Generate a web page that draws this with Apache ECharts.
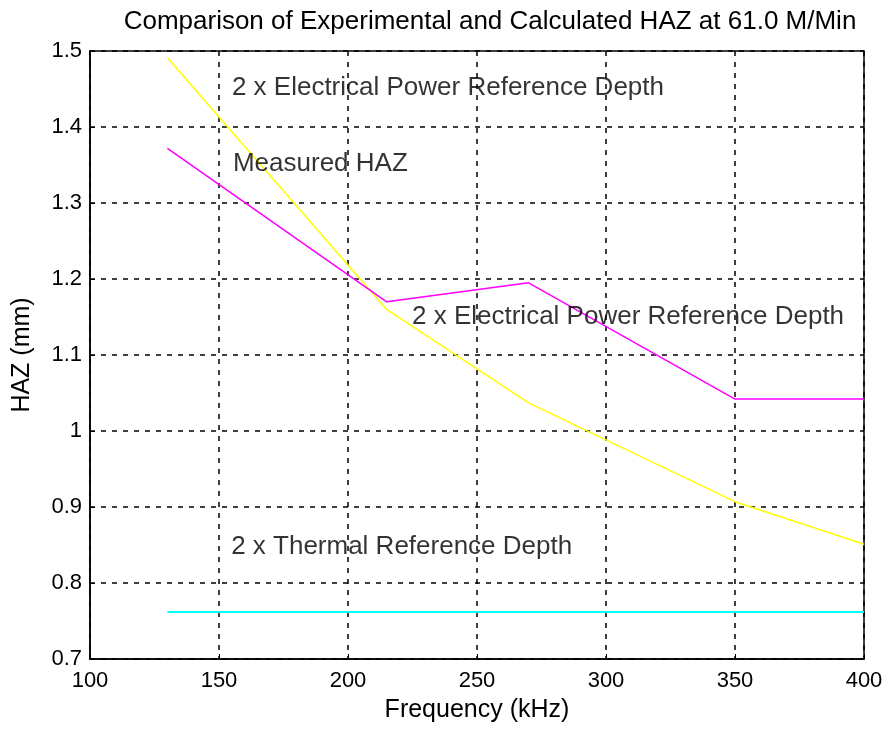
<!DOCTYPE html>
<html>
<head>
<meta charset="utf-8">
<script src="https://cdn.jsdelivr.net/npm/echarts@6/dist/echarts.min.js"></script>
<style>
html,body{margin:0;padding:0;background:#fff;}
#chart{width:887px;height:736px;}
</style>
</head>
<body>
<div id="chart"></div>
<script>
var xTicks = [100, 150, 200, 250, 300, 350, 400];
var yTicks = [0.7, 0.8, 0.9, 1.0, 1.1, 1.2, 1.3, 1.4, 1.5];

var freqElec = [130, 215, 270, 350, 400];
var elecDepth = [1.491, 1.160, 1.037, 0.907, 0.851];

var freqMeas = [130, 215, 270, 350, 400];
var measuredHAZ = [1.372, 1.170, 1.195, 1.042, 1.042];

var freqTherm = [130, 400];
var thermDepth = [0.762, 0.762];

var annText = ['2 x Electrical Power Reference Depth', 'Measured HAZ', '2 x Electrical Power Reference Depth', '2 x Thermal Reference Depth'];
var annX = [155.0, 155.4, 224.8, 154.7];
var annY = [1.451, 1.351, 1.150, 0.847];

function pairs(xs, ys){ return xs.map(function(x,i){ return [x, ys[i]]; }); }

var FONT = '"Liberation Sans", Arial, sans-serif';
var chart = echarts.init(document.getElementById('chart'), null, {renderer:'canvas'});

var annData = annText.map(function(t,i){ return {value:[annX[i], annY[i]], name:t}; });

var option = {
  animation:false,
  backgroundColor:'#fff',
  title:{
    text:'Comparison of Experimental and Calculated HAZ at 61.0 M/Min',
    left:485, top:4, textAlign:'center',
    textStyle:{fontFamily:FONT, fontSize:26, fontWeight:'normal', color:'#000'}
  },
  grid:{left:90, right:23, top:51, bottom:77, show:true, borderColor:'#000', borderWidth:1.5, backgroundColor:'#fff'},
  xAxis:{
    type:'value', min:100, max:400, interval:50,
    name:'Frequency (kHz)', nameLocation:'middle', nameGap:39,
    nameTextStyle:{fontFamily:FONT, fontSize:25, color:'#000'},
    axisLine:{show:true, lineStyle:{color:'#000', width:1.5}},
    axisTick:{show:true, inside:true, length:5, lineStyle:{color:'#000'}},
    axisLabel:{fontFamily:FONT, fontSize:22, color:'#000', margin:11,
      formatter:function(v){ return xTicks.indexOf(v) >= 0 ? String(v) : ''; }},
    splitLine:{show:true, lineStyle:{color:'#000', type:[5,6], width:1.5}}
  },
  yAxis:{
    type:'value', min:0.7, max:1.5, interval:0.1,
    name:'HAZ (mm)', nameLocation:'middle', nameGap:55, nameRotate:90,
    nameTextStyle:{fontFamily:FONT, fontSize:25, color:'#000'},
    axisLine:{show:true, lineStyle:{color:'#000', width:1.5}},
    axisTick:{show:true, inside:true, length:5, lineStyle:{color:'#000'}},
    axisLabel:{fontFamily:FONT, fontSize:22, color:'#000', margin:8,
      formatter:function(v){
        var r = Math.round(v*10)/10;
        for (var i=0;i<yTicks.length;i++){ if (Math.abs(yTicks[i]-r)<1e-9) return (r===1?'1':r.toFixed(1)); }
        return '';
      }},
    splitLine:{show:true, lineStyle:{color:'#000', type:[5,6], width:1.5}}
  },
  series:[
    {type:'line', data:pairs(freqElec, elecDepth), symbol:'none', lineStyle:{color:'#ffff00', width:1.5}, z:3},
    {type:'line', data:pairs(freqMeas, measuredHAZ), symbol:'none', lineStyle:{color:'#ff00ff', width:1.5}, z:3},
    {type:'line', data:pairs(freqTherm, thermDepth), symbol:'none', lineStyle:{color:'#00ffff', width:2}, z:3},
    {type:'scatter', data:annData, symbolSize:0, z:5, silent:true,
      label:{show:true, position:'right', distance:0, formatter:function(p){ return p.name; },
        fontFamily:FONT, fontSize:26, color:'#000', verticalAlign:'middle'}}
  ]
};
chart.setOption(option);
</script>
</body>
</html>
